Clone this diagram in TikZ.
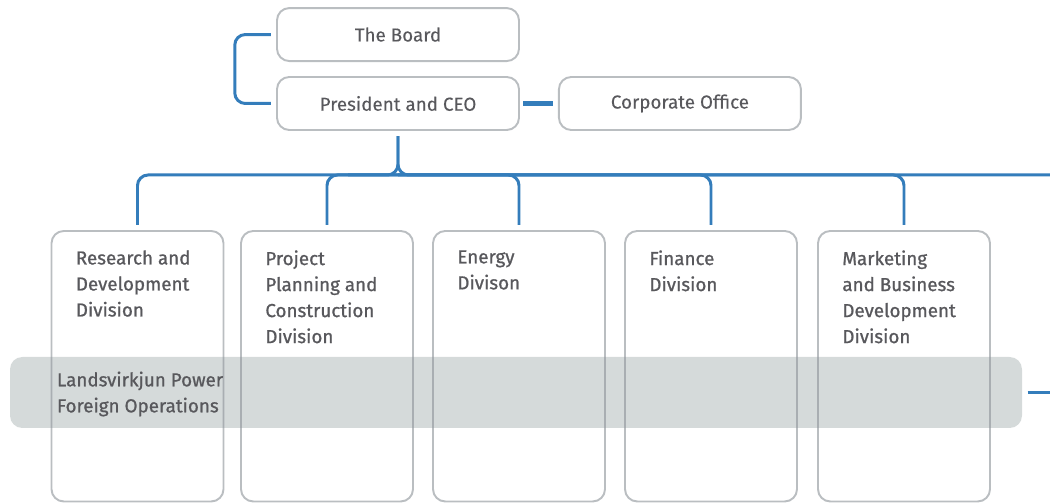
\documentclass[tikz,border=0pt]{standalone}
\usepackage{fontspec}
\setmainfont[FakeBold=0.9]{Fira Sans}
\usepackage{tikz}
\usetikzlibrary{positioning}

\definecolor{linkblue}{RGB}{52,125,187}
\definecolor{boxgray}{RGB}{140,146,152}
\definecolor{bandgray}{RGB}{213,218,218}
\definecolor{textgray}{RGB}{88,88,92}

\begin{document}
\begin{tikzpicture}[font=\fontsize{10.7}{14.8}\selectfont]

	\tikzstyle box lines=[draw=boxgray, draw opacity=.6, line width=1.1pt, rounded corners=7pt];
	\tikzstyle link lines=[draw=linkblue, line width=1.7pt];
	\tikzstyle top box=[box lines, minimum width=4.84cm, minimum height=1.06cm, inner sep=0pt, text=textgray];
	\tikzstyle division box=[box lines, minimum width=3.44cm, minimum height=5.41cm, inner sep=0pt];
	\tikzstyle division text=[anchor=north west, inner sep=0pt, align=left, text=textgray];
	\tikzstyle band=[fill=bandgray, rounded corners=7pt, minimum width=20.24cm, minimum height=1.42cm, inner sep=0pt];

	\useasboundingbox (0,0) rectangle (21,10.08);

	% grey strip running behind the divisions
	\node[band] (foreign) at (10.32,2.23) {};

	\node[top box] (ceo) at (7.96,8.01) {President and CEO};
	\node[top box, above=0.28cm of ceo] (board) {The Board};
	\node[top box, right=0.76cm of ceo] (corp) {Corporate Office};

	\coordinate (bus) at (ceo.south |- 0,6.58);
	\coordinate (feed) at (21,6.58);
	\coordinate (outlet) at (21,2.23);

	\draw[link lines, rounded corners=6pt] ([xshift=-3pt]board.west) -- ++(-.72,0) |- ([xshift=-3pt]ceo.west);
	\draw[link lines, line width=2.8pt] ([xshift=2pt]ceo.east) -- ([xshift=-3pt]corp.west);

	\draw[link lines, rounded corners=6pt] ([yshift=-3pt]ceo.south) |- (feed);
	\draw[link lines, rounded corners=6pt] ([yshift=-3pt]ceo.south) |- ([xshift=-1cm]bus);

	\foreach \x/\name/\label in {2.75/rd/{Research and\\Development\\Division},
		6.54/ppc/{Project\\Planning and\\Construction\\Division},
		10.38/energy/{Energy\\Divison},
		14.22/finance/{Finance\\Division},
		18.08/mbd/{Marketing\\and Business\\Development\\Division}}
	{
		\node[division box] (\name) at (\x,2.755) {};
		\node[division text] (\name-text) at ([xshift=.5cm,yshift=-.4cm]\name.north west) {\label};
		\draw[link lines, rounded corners=6pt] ([yshift=3pt]\name.north) |- (bus);
	}

	\node[division text, anchor=west] (foreign-text) at ([xshift=.94cm,yshift=-.03cm]foreign.west) {Landsvirkjun Power\\Foreign Operations};
	\draw[link lines] ([xshift=3pt]foreign.east) -- (outlet);

\end{tikzpicture}
\end{document}
